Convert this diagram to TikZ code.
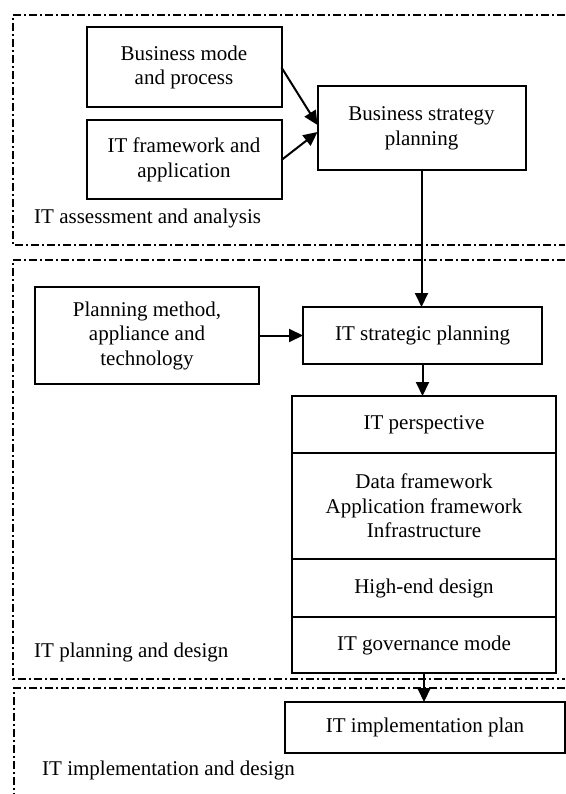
\documentclass[tikz,border=0pt]{standalone}
\usepackage{fontspec}
\setmainfont{Liberation Serif}
\usetikzlibrary{arrows.meta,calc}
\begin{document}
\begin{tikzpicture}[x=1pt,y=-1pt,
  every node/.style={font=\fontsize{21}{24.5}\selectfont},
  box/.style={draw,line width=2pt,inner sep=0pt,outer sep=0pt,align=center},
  frame/.style={line width=1.8pt,dash pattern=on 8pt off 3pt on 2pt off 3pt},
  arr/.style={line width=2pt,-{Triangle[length=14pt,width=13pt]}},
  lbl/.style={anchor=west,inner sep=0pt}]
\useasboundingbox (0,0) rectangle (565,794);
% frames
\draw[frame] (565,15) -- (13,15) -- (13,245) -- (565,245);
\draw[frame] (565,260) -- (13,260) -- (13,679) -- (565,679);
\draw[frame] (565,688) -- (14,688) -- (14,794);
% boxes
\node[box,minimum width=195pt,minimum height=80pt] (bm) at (184,67.5) {Business mode\\and process};
\node[box,minimum width=195pt,minimum height=79pt] (itf) at (184,160) {IT framework and\\application};
\node[box,minimum width=208pt,minimum height=84pt] (bsp) at (421.5,128.5) {Business strategy\\planning};
\node[box,minimum width=224pt,minimum height=97pt] (pm) at (147,335.5) {Planning method,\\appliance and\\technology};
\node[box,minimum width=239pt,minimum height=57pt] (itsp) at (422.5,335.5) {IT strategic planning};
\node[box,minimum width=264pt,minimum height=57pt] (s1) at (424,424.5) {IT perspective};
\node[box,minimum width=264pt,minimum height=106pt] (s2) at (424,506) {Data framework\\Application framework\\Infrastructure};
\node[box,minimum width=264pt,minimum height=58pt] (s3) at (424,588) {High-end design};
\node[box,minimum width=264pt,minimum height=56pt] (s4) at (424,645) {IT governance mode};
\node[box,minimum width=280pt,minimum height=51pt] (impl) at (425,727.5) {IT implementation plan};
% labels
\node[lbl] (l1) at (34,218) {IT assessment and analysis};
\node[lbl] (l2) at (34,652) {IT planning and design};
\node[lbl] (l3) at (42,770) {IT implementation and design};
% connectors
\draw[arr] (bm.east) -- ($(bsp.west)+(0,-3.5)$);
\draw[arr] (itf.east) -- ($(bsp.west)+(0,3.5)$);
\draw[arr] (bsp.south) -- (bsp.south |- itsp.north);
\draw[arr] (pm.east) -- (itsp.west);
\draw[arr] (itsp.south) -- (itsp.south |- s1.north);
\draw[arr] (s4.south) -- (s4.south |- impl.north);
\end{tikzpicture}
\end{document}
